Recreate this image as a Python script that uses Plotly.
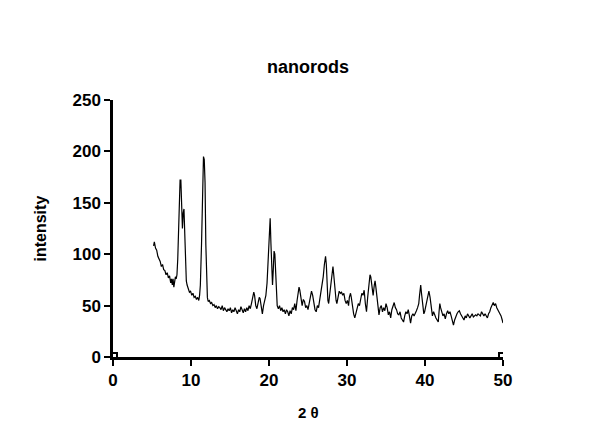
import plotly.graph_objects as go

two_theta = [
    5.2, 5.3, 5.45, 5.6, 5.75, 5.9, 6.05, 6.2, 6.35, 6.5, 6.65, 6.8, 6.95, 7.1, 7.25, 7.4, 7.5, 7.6, 7.7, 7.8, 7.9,
    8.0, 8.1, 8.2, 8.3, 8.45, 8.6, 8.7, 8.8, 8.9, 9.0, 9.1, 9.2, 9.3, 9.4, 9.5, 9.65, 9.8, 9.95,
    10.1, 10.25, 10.4, 10.55, 10.7, 10.85, 11.0, 11.1, 11.2, 11.35, 11.5, 11.6, 11.7, 11.8, 11.9,
    12.0, 12.1, 12.2, 12.35, 12.5, 12.65, 12.8, 12.95, 13.1, 13.25, 13.4, 13.55, 13.7, 13.85,
    14.0, 14.15, 14.3, 14.45, 14.6, 14.75, 14.9, 15.05, 15.2, 15.35, 15.5, 15.65, 15.8, 15.95,
    16.1, 16.25, 16.4, 16.55, 16.7, 16.85, 17.0, 17.15, 17.3, 17.45, 17.6, 17.75, 17.9,
    18.05, 18.15, 18.3, 18.45, 18.6, 18.75, 18.85, 19.0, 19.15, 19.3, 19.45, 19.6, 19.75, 19.9,
    20.05, 20.15, 20.25, 20.35, 20.45, 20.55, 20.65, 20.75, 20.85, 20.95,
    21.05, 21.2, 21.35, 21.5, 21.65, 21.8, 21.95, 22.1, 22.25, 22.4, 22.55, 22.7, 22.85,
    23.0, 23.15, 23.3, 23.45, 23.6, 23.75, 23.85, 23.95, 24.1, 24.25, 24.4, 24.55, 24.7, 24.85,
    25.0, 25.15, 25.3, 25.45, 25.6, 25.75, 25.9, 26.05, 26.2, 26.35, 26.5, 26.65, 26.8, 26.95,
    27.1, 27.25, 27.35, 27.45, 27.55, 27.65, 27.8, 27.95, 28.1, 28.2, 28.3, 28.45, 28.6, 28.7, 28.85,
    29.0, 29.15, 29.3, 29.45, 29.6, 29.75, 29.9, 30.05, 30.2, 30.3, 30.45, 30.55, 30.7, 30.85,
    31.0, 31.15, 31.3, 31.45, 31.6, 31.75, 31.9, 32.05, 32.2, 32.35, 32.5, 32.65, 32.8, 32.95,
    33.05, 33.2, 33.35, 33.5, 33.6, 33.7, 33.85, 34.0, 34.1, 34.25, 34.4, 34.55, 34.7, 34.85,
    35.0, 35.15, 35.3, 35.45, 35.6, 35.75, 35.9, 36.05, 36.2, 36.35, 36.5, 36.65, 36.8, 36.95,
    37.1, 37.25, 37.4, 37.55, 37.7, 37.85, 38.0, 38.15, 38.3, 38.45, 38.6, 38.75, 38.9,
    39.05, 39.2, 39.3, 39.45, 39.55, 39.7, 39.85, 39.95, 40.1, 40.25, 40.4, 40.5, 40.65, 40.8, 40.95,
    41.1, 41.25, 41.4, 41.55, 41.7, 41.8, 41.9, 42.0, 42.15, 42.3, 42.45, 42.6, 42.75, 42.9,
    43.05, 43.2, 43.35, 43.5, 43.65, 43.8, 43.95, 44.1, 44.25, 44.4, 44.55, 44.7, 44.85,
    45.0, 45.15, 45.3, 45.45, 45.6, 45.75, 45.9, 46.05, 46.2, 46.35, 46.5, 46.65, 46.8, 46.95,
    47.1, 47.25, 47.4, 47.55, 47.7, 47.85, 48.0, 48.15, 48.3, 48.45, 48.6, 48.75, 48.9,
    49.05, 49.2, 49.35, 49.5, 49.6, 49.75, 49.9, 50.0,
]

intensity = [
    108, 112, 106, 104, 98, 96, 93, 88, 90, 85, 84, 80, 82, 77, 79, 72, 76, 70, 76, 68, 74,
    78, 76, 80, 95, 140, 172, 172, 145, 125, 140, 144, 120, 88, 74, 70, 66, 63, 64,
    60, 62, 58, 59, 56, 58, 55, 60, 70, 110, 160, 195, 192, 170, 110,
    75, 58, 54, 55, 52, 53, 50, 51, 48, 50, 47, 49, 48, 46,
    50, 45, 48, 46, 44, 47, 45, 48, 43, 46, 44, 48, 45, 42,
    46, 44, 49, 45, 43, 47, 44, 48, 45, 50, 47, 52, 58,
    63, 60, 50, 47, 55, 58, 57, 48, 42, 50, 55, 60, 72, 95,
    125, 135, 110, 80, 70, 85, 103, 100, 80, 62,
    50, 47, 50, 45, 48, 44, 46, 42, 46, 44, 40, 45, 42,
    48, 46, 52, 45, 55, 62, 68, 65, 54, 50, 56, 54, 48, 50,
    46, 52, 58, 64, 60, 50, 46, 44, 50, 48, 56, 62, 68, 78,
    90, 98, 90, 70, 55, 52, 62, 75, 86, 88, 80, 65, 55, 52, 58,
    64, 62, 63, 60, 62, 55, 52, 55, 50, 58, 62, 58, 48, 42,
    38, 42, 48, 52, 50, 58, 62, 60, 65, 52, 44, 58, 70, 80,
    78, 65, 60, 70, 74, 68, 55, 48, 41, 48, 50, 44, 48, 45,
    52, 48, 41, 44, 38, 46, 50, 53, 48, 46, 42, 41, 44, 38,
    36, 34, 40, 44, 42, 46, 40, 33, 40, 42, 40, 42, 45,
    48, 52, 60, 70, 62, 52, 42, 44, 50, 54, 62, 64, 58, 48, 40,
    44, 40, 38, 36, 34, 44, 52, 48, 44, 40, 42, 37, 42, 45,
    42, 44, 40, 36, 31, 36, 40, 42, 44, 45, 42, 40, 37,
    36, 40, 38, 42, 40, 38, 40, 42, 39, 40, 41, 40, 42, 41,
    40, 44, 42, 40, 42, 40, 38, 42, 44, 48, 50, 53, 50,
    52, 48, 46, 44, 43, 40, 36, 33,
]

x_ticks = [0, 10, 20, 30, 40, 50]
y_ticks = [0, 50, 100, 150, 200, 250]

fig = go.Figure()
fig.add_trace(go.Scatter(
    x=two_theta, y=intensity, mode="lines",
    line=dict(color="black", width=1.2),
    showlegend=False, hoverinfo="skip",
))

tick_font = dict(family="Liberation Sans, Arial", size=17, color="black", weight="bold")
axis_common = dict(
    showgrid=False, zeroline=False, showline=True, linecolor="black", linewidth=2.5,
    ticks="outside", ticklen=6, tickwidth=2, tickcolor="black",
    tickfont=tick_font, mirror=False,
)
fig.update_xaxes(range=[0, 50], tickvals=x_ticks, ticktext=[str(v) for v in x_ticks], **axis_common)
fig.update_yaxes(range=[0, 250], tickvals=y_ticks, ticktext=[str(v) for v in y_ticks], **axis_common)

# small square markers at the axis ends (GraphPad style)
for xv in (0, 50):
    fig.add_shape(type="rect", xref="x", yref="y", xsizemode="pixel", ysizemode="pixel",
                  xanchor=xv, yanchor=0, x0=-4, x1=4, y0=-4, y1=4,
                  line=dict(color="black", width=2), fillcolor="white", layer="above")

fig.add_annotation(text="<b>nanorods</b>", xref="paper", yref="paper", x=0.5, y=1,
                   yshift=33, showarrow=False, yanchor="middle",
                   font=dict(family="Liberation Sans, Arial", size=18, color="black"))
fig.add_annotation(text="<b>2 θ</b>", xref="paper", yref="paper", x=0.5, y=0,
                   yshift=-55, showarrow=False, yanchor="middle",
                   font=dict(family="Liberation Sans, Arial", size=15, color="black"))
fig.add_annotation(text="<b>intensity</b>", xref="paper", yref="paper", x=0, y=0.5,
                   xshift=-73, showarrow=False, xanchor="center", yanchor="middle", textangle=-90,
                   font=dict(family="Liberation Sans, Arial", size=16, color="black"))

fig.update_layout(
    width=600, height=431,
    margin=dict(l=105, r=105, t=92, b=82),
    paper_bgcolor="white", plot_bgcolor="white",
)

fig.write_html("out.html")
